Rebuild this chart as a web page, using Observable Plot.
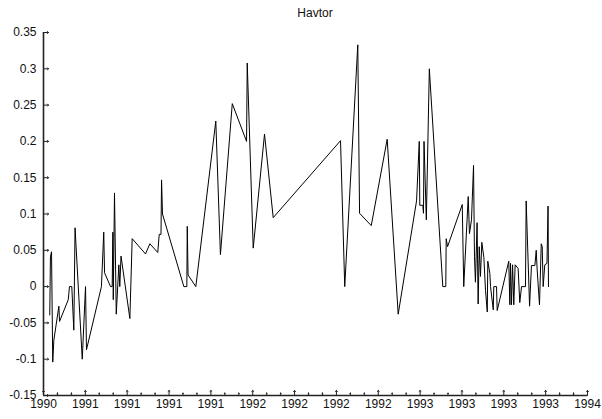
<!DOCTYPE html>
<html>
<head>
<meta charset="utf-8">
<script src="https://cdn.jsdelivr.net/npm/d3@7"></script>
<script src="https://cdn.jsdelivr.net/npm/@observablehq/plot@0.6"></script>
<style>
  html, body { margin: 0; padding: 0; background: #fff; }
  #wrap { position: relative; width: 602px; height: 419px; font-family: "Liberation Sans", Arial, sans-serif; }
  #title { position: absolute; left: 43px; width: 544px; top: 6px; text-align: center; font-size: 12px; color: #111; }
  #chart { position: absolute; left: 0; top: 0; }
</style>
</head>
<body>
<div id="wrap">
  <div id="chart"></div>
  <div id="title">Havtor</div>
</div>
<script>
const dates = [
  1990.046, 1990.051, 1990.059, 1990.068, 1990.076, 1990.113, 1990.118, 1990.182, 1990.191, 1990.208,
  1990.223, 1990.232, 1990.285, 1990.309, 1990.316, 1990.426, 1990.443, 1990.449, 1990.493, 1990.505,
  1990.510, 1990.513, 1990.522, 1990.535, 1990.554, 1990.561, 1990.570, 1990.635, 1990.652, 1990.750,
  1990.782, 1990.840, 1990.851, 1990.864, 1990.868, 1990.875, 1991.032, 1991.054, 1991.057, 1991.063,
  1991.120, 1991.267, 1991.301, 1991.388, 1991.493, 1991.498, 1991.542, 1991.625, 1991.689, 1992.184,
  1992.215, 1992.311, 1992.324, 1992.410, 1992.527, 1992.608, 1992.743, 1992.763, 1992.767, 1992.789,
  1992.794, 1992.798, 1992.815, 1992.837, 1992.936, 1992.958, 1992.961, 1992.971, 1993.079, 1993.090,
  1993.123, 1993.132, 1993.147, 1993.162, 1993.169, 1993.176, 1993.188, 1993.196, 1993.204, 1993.213,
  1993.223, 1993.238, 1993.250, 1993.263, 1993.267, 1993.282, 1993.287, 1993.307, 1993.311, 1993.331,
  1993.336, 1993.421, 1993.429, 1993.434, 1993.441, 1993.449, 1993.458, 1993.468, 1993.490, 1993.502,
  1993.515, 1993.544, 1993.549, 1993.574, 1993.588, 1993.613, 1993.623, 1993.630, 1993.647, 1993.660,
  1993.667, 1993.674, 1993.686, 1993.702, 1993.710, 1993.713
];
const values = [
  -0.039, 0.041, 0.048, -0.104, -0.074, -0.027, -0.048, -0.018, 0, 0,
  -0.060, 0.081, -0.100, 0, -0.087, 0, 0.075, 0.019, 0, 0,
  0.075, -0.018, 0.129, -0.038, 0.030, 0, 0.042, -0.044, 0.066, 0.045,
  0.059, 0.047, 0.072, 0.072, 0.147, 0.100, 0, 0, 0.083, 0.016,
  0, 0.228, 0.044, 0.252, 0.200, 0.308, 0.053, 0.210, 0.095, 0.201,
  0, 0.333, 0.101, 0.084, 0.203, -0.038, 0.118, 0.200, 0.112, 0.112,
  0.101, 0.200, 0.092, 0.300, 0, 0, 0.066, 0.055, 0.113, 0,
  0.124, 0.073, 0.092, 0.167, 0.041, 0.006, 0.088, -0.024, 0.055, 0.014,
  0.061, 0.040, -0.005, -0.035, 0.035, 0.018, 0, -0.032, 0, 0,
  -0.033, 0.035, -0.025, 0.032, -0.025, 0.030, -0.025, 0.030, 0.025, -0.022,
  0, 0, 0.118, -0.027, 0.029, 0.029, 0.050, 0.023, -0.025, 0.059,
  0.055, 0, 0.030, 0.032, 0.111, 0
];

const yTicks = [-0.15, -0.1, -0.05, 0, 0.05, 0.1, 0.15, 0.2, 0.25, 0.3, 0.35];
const yTickLabels = ["-0.15", "-0.1", "-0.05", "0", "0.05", "0.1", "0.15", "0.2", "0.25", "0.3", "0.35"];
const xTickLabels = ["1990", "1991", "1991", "1991", "1991", "1992", "1992", "1992", "1992", "1993", "1993", "1993", "1993", "1994"];

const xStart = 1990, xEnd = 1994;
const nInt = xTickLabels.length - 1;
const xTicks = xTickLabels.map((_, i) => xStart + i * (xEnd - xStart) / nInt);
const xMinor = [];
for (let i = 0; i < nInt; i++) {
  xMinor.push(xTicks[i] + (xTicks[i + 1] - xTicks[i]) / 3);
  xMinor.push(xTicks[i] + 2 * (xTicks[i + 1] - xTicks[i]) / 3);
}

const data = dates.map((d, i) => ({date: d, value: values[i]}));
const axisColor = "#222";

const chart = Plot.plot({
  width: 602,
  height: 419,
  marginLeft: 43,
  marginRight: 15,
  marginTop: 32,
  marginBottom: 24,
  style: {fontFamily: "'Liberation Sans', Arial, sans-serif", fontSize: "12px", color: "#111", background: "white"},
  x: {domain: [xStart, xEnd], ticks: xTicks, tickFormat: (d, i) => xTickLabels[i], tickSize: 0, tickPadding: 4, label: null},
  y: {domain: [-0.15, 0.35], ticks: yTicks, tickFormat: (d, i) => yTickLabels[i], tickSize: 0, tickPadding: 7, label: null},
  marks: [
    Plot.vector(yTicks, {x: xStart, y: d => d, length: 5, rotate: 90, anchor: "start", stroke: axisColor, strokeWidth: 1}),
    Plot.vector(xTicks, {x: d => d, y: -0.15, length: 5, rotate: 0, anchor: "start", stroke: axisColor, strokeWidth: 1}),
    Plot.vector(xMinor, {x: d => d, y: -0.15, length: 2.5, rotate: 0, anchor: "start", stroke: axisColor, strokeWidth: 1}),
    Plot.line(data, {x: "date", y: "value", stroke: "black", strokeWidth: 1}),
    Plot.ruleX([xStart], {stroke: axisColor, strokeWidth: 1.6}),
    Plot.ruleY([-0.15], {stroke: axisColor, strokeWidth: 1.6})
  ]
});
document.getElementById("chart").appendChild(chart);
</script>
</body>
</html>
